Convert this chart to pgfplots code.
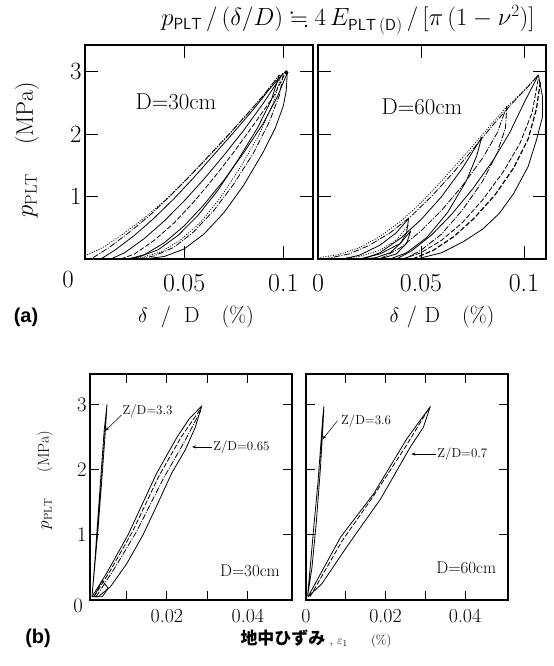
\documentclass[border=0pt]{standalone}
\usepackage{amssymb}
\usepackage{fontspec}
\usepackage{pgfplots}
\pgfplotsset{compat=1.18}
\usetikzlibrary{arrows.meta}
\newfontfamily\cjk{Noto Sans CJK JP}
\newfontfamily\arial{Liberation Sans}
\newcommand{\fs}[1]{\fontsize{#1}{#1}\selectfont}
\pgfplotsset{
  panel/.style={scale only axis, axis line style={line width=1.1bp},
    tick style={line width=0.9bp, black}, tick align=inside, clip=true,
    scaled ticks=false, cycle list={{black, solid}},
    every axis plot/.append style={line width=0.8bp, line join=round}},
  top/.style={panel, width=228bp, height=214bp, ymin=0, ymax=3.43,
    ytick={1,2,3}, major tick length=13bp,
    ticklabel style={font=\fs{26}}, xticklabel style={yshift=-12bp}},
  bot/.style={panel, width=202bp, height=226bp, ymin=0, ymax=3.47,
    ytick={1,2,3}, xtick={0.01,0.02,0.03,0.04}, major tick length=9bp,
    ticklabel style={font=\fs{20}}, xticklabel style={yshift=-6bp}},
  dd/.style={black, dash pattern=on 1bp off 1.5bp},
  da/.style={black, dash pattern=on 5bp off 2bp},
  dc/.style={black, dash pattern=on 6bp off 1.5bp on 1bp off 1.5bp},
}
\begin{document}
\begin{tikzpicture}[x=1bp,y=1bp]
\path[use as bounding box] (0,0) rectangle (554,666);
% ---------------- (a) D=30cm
\begin{axis}[top, at={(85bp,407bp)}, anchor=south west, xmin=0, xmax=0.115,
  xtick={0.05,0.1}, xticklabels={0.05,0.1}]
\addplot[dd] coordinates {(0,0.05)(0.01,0.2)(0.02,0.42)(0.03,0.66)(0.04,0.93)(0.05,1.24)(0.06,1.56)(0.07,1.9)(0.08,2.26)(0.09,2.62)(0.098,2.95)};
\addplot[dc] coordinates {(0.004,0.02)(0.012,0.18)(0.022,0.42)(0.032,0.68)(0.042,0.98)(0.052,1.3)(0.062,1.64)(0.072,1.98)(0.082,2.33)(0.091,2.66)(0.098,2.95)};
\addplot coordinates {(0.008,0)(0.015,0.14)(0.025,0.38)(0.035,0.66)(0.045,0.97)(0.055,1.31)(0.065,1.67)(0.075,2.03)(0.085,2.4)(0.093,2.72)(0.1,2.98)};
\addplot coordinates {(0.013,0)(0.02,0.1)(0.03,0.33)(0.04,0.61)(0.05,0.93)(0.06,1.28)(0.07,1.66)(0.08,2.06)(0.09,2.5)(0.1,2.98)};
\addplot[da] coordinates {(0.018,0)(0.025,0.08)(0.035,0.3)(0.045,0.58)(0.055,0.92)(0.065,1.3)(0.075,1.71)(0.085,2.15)(0.095,2.6)(0.101,2.98)};
\addplot coordinates {(0.022,0)(0.03,0.07)(0.04,0.26)(0.05,0.53)(0.06,0.87)(0.07,1.26)(0.08,1.7)(0.09,2.18)(0.097,2.6)(0.102,2.98)};
\addplot coordinates {(0.102,2.98)(0.1015,2.7)(0.1,2.45)(0.096,2.1)(0.09,1.72)(0.08,1.18)(0.07,0.74)(0.06,0.4)(0.05,0.16)(0.04,0.04)(0.03,0)};
\addplot[dc] coordinates {(0.1,2.96)(0.098,2.62)(0.093,2.2)(0.085,1.7)(0.075,1.2)(0.065,0.78)(0.055,0.44)(0.045,0.19)(0.035,0.05)(0.027,0)};
\addplot[dd] coordinates {(0.099,2.95)(0.095,2.5)(0.088,2.0)(0.078,1.45)(0.068,0.97)(0.058,0.58)(0.048,0.3)(0.038,0.11)(0.028,0.02)(0.022,0)};
\addplot coordinates {(0.098,2.95)(0.094,2.55)(0.087,2.1)(0.077,1.58)(0.067,1.1)(0.057,0.7)(0.047,0.38)(0.037,0.15)(0.027,0.03)(0.02,0)};
\addplot[black, only marks, mark=*, mark size=1.8bp] coordinates {(0.1015,2.99)};
\end{axis}
% ---------------- (a) D=60cm
\begin{axis}[top, at={(318bp,407bp)}, anchor=south west, xmin=0, xmax=0.1107,
  xtick={0,0.05,0.1}, xticklabels={0,0.05,0.1}, yticklabels={}]
\addplot[dd] coordinates {(0,0.02)(0.01,0.07)(0.02,0.18)(0.03,0.36)(0.04,0.6)(0.05,0.9)(0.06,1.25)(0.07,1.62)(0.08,2.0)(0.09,2.38)(0.1,2.7)(0.107,2.95)};
\addplot[dc] coordinates {(0.003,0)(0.015,0.08)(0.025,0.22)(0.035,0.42)(0.045,0.68)(0.055,1.0)(0.065,1.36)(0.075,1.75)(0.085,2.15)(0.095,2.52)(0.103,2.8)(0.107,2.95)};
\addplot coordinates {(0.012,0)(0.02,0.06)(0.03,0.22)(0.038,0.42)(0.044,0.65)(0.043,0.42)(0.04,0.25)(0.035,0.1)(0.028,0.02)(0.022,0)};
\addplot coordinates {(0.02,0)(0.03,0.08)(0.04,0.25)(0.045,0.45)(0.043,0.25)(0.038,0.08)(0.03,0)};
\addplot coordinates {(0.022,0)(0.03,0.1)(0.04,0.33)(0.05,0.63)(0.06,1.0)(0.07,1.45)(0.0795,1.95)(0.077,1.65)(0.072,1.25)(0.063,0.75)(0.053,0.35)(0.043,0.1)(0.035,0)};
\addplot[dc] coordinates {(0.03,0)(0.04,0.18)(0.05,0.45)(0.06,0.78)(0.07,1.17)(0.08,1.62)(0.087,2.02)(0.0917,2.45)(0.091,2.1)(0.087,1.7)(0.08,1.25)(0.07,0.78)(0.06,0.4)(0.05,0.14)(0.042,0)};
\addplot coordinates {(0.038,0)(0.045,0.12)(0.055,0.38)(0.065,0.72)(0.075,1.12)(0.085,1.58)(0.093,2.02)(0.1,2.5)(0.107,2.95)};
\addplot[da, line width=1.2bp] coordinates {(0.046,0)(0.056,0.14)(0.066,0.36)(0.076,0.66)(0.086,1.03)(0.095,1.46)(0.102,1.92)(0.106,2.4)(0.108,2.85)};
\addplot coordinates {(0.107,2.95)(0.109,2.6)(0.109,2.28)(0.106,1.9)(0.102,1.48)(0.095,1.05)(0.088,0.73)(0.08,0.48)(0.0707,0.28)(0.06,0.1)(0.048,0)};
\addplot[da] coordinates {(0.041,0)(0.05,0.1)(0.06,0.3)(0.07,0.58)(0.08,0.95)(0.09,1.4)(0.098,1.85)(0.104,2.35)(0.107,2.9)};
\addplot[dd] coordinates {(0.01,0)(0.02,0.04)(0.03,0.14)(0.038,0.3)(0.044,0.55)};
\end{axis}
% ---------------- (b) D=30cm
\begin{axis}[bot, at={(90bp,66bp)}, anchor=south west, xmin=0.001, xmax=0.0509,
  xticklabels={,0.02,,0.04}]
\addplot coordinates {(0.0015,0.05)(0.0022,0.6)(0.003,1.3)(0.0038,2.0)(0.0045,2.6)(0.0052,3.0)(0.0048,2.6)(0.0041,2.0)(0.003,1.1)(0.002,0.4)(0.0015,0.05)};
\addplot coordinates {(0.0015,0.05)(0.005,0.4)(0.0104,1.0)(0.0175,1.95)(0.0225,2.5)(0.0255,2.78)(0.0286,2.98)(0.027,2.65)(0.0245,2.3)(0.0212,1.95)(0.0175,1.45)(0.0141,1.0)(0.01,0.55)(0.006,0.2)(0.003,0.05)(0.0015,0.05)};
\addplot[da] coordinates {(0.002,0.05)(0.006,0.45)(0.0115,1.05)(0.018,1.9)(0.0235,2.5)(0.0285,2.95)};
\addplot[dc] coordinates {(0.0025,0.05)(0.0072,0.5)(0.0125,1.05)(0.019,1.85)(0.0245,2.45)(0.0283,2.9)};
\addplot coordinates {(0.002,0.05)(0.004,0.3)(0.0055,0.18)(0.004,0.05)(0.002,0.05)};
\draw[-{Stealth[length=4bp]}, line width=0.5bp] (axis cs:0.0088,2.84) -- (axis cs:0.0048,2.6);
\node[anchor=west, inner sep=0pt, font=\fs{13}] at (axis cs:0.009,2.9) {Z/D=3.3};
\draw[-{Stealth[length=4bp]}, line width=0.5bp] (axis cs:0.0312,2.35) -- (axis cs:0.0262,2.35);
\node[anchor=west, inner sep=0pt, font=\fs{13}] at (axis cs:0.0314,2.35) {Z/D=0.65};
\node[font=\fs{17}] at (axis cs:0.0405,0.45) {D=30cm};
\end{axis}
% ---------------- (b) D=60cm
\begin{axis}[bot, at={(306bp,66bp)}, anchor=south west, xmin=0, xmax=0.0508,
  xtick={0,0.01,0.02,0.03,0.04}, xticklabels={0,,0.02,,0.04}, yticklabels={}]
\addplot coordinates {(0.0004,0.06)(0.0012,0.6)(0.002,1.15)(0.003,1.8)(0.0038,2.45)(0.0042,2.8)(0.0045,2.97)(0.0042,2.6)(0.0036,2.0)(0.0026,1.2)(0.0015,0.5)(0.0004,0.06)};
\addplot coordinates {(0.0005,0.05)(0.00875,0.97)(0.017,1.63)(0.0254,2.48)(0.03125,2.97)(0.0295,2.65)(0.02625,2.35)(0.01875,1.55)(0.0104,0.83)(0.004,0.25)(0.0005,0.05)};
\addplot[da] coordinates {(0.001,0.05)(0.009,0.9)(0.017,1.6)(0.025,2.35)(0.0305,2.9)};
\draw[-{Stealth[length=4bp]}, line width=0.5bp] (axis cs:0.0079,2.75) -- (axis cs:0.0042,2.47);
\node[anchor=west, inner sep=0pt, font=\fs{13}] at (axis cs:0.0088,2.75) {Z/D=3.6};
\draw[-{Stealth[length=4bp]}, line width=0.5bp] (axis cs:0.0328,2.24) -- (axis cs:0.0265,2.24);
\node[anchor=west, inner sep=0pt, font=\fs{13}] at (axis cs:0.033,2.24) {Z/D=0.7};
\node[font=\fs{17}] at (axis cs:0.0403,0.5) {D=60cm};
\end{axis}
% ---------------- texts
\node[font=\fs{26}] at (68,386) {$0$};
\node[font=\fs{20}] at (78,60) {$0$};
\node[font=\fs{23}] at (176,564) {D=30cm};
\node[font=\fs{23}] at (422,559) {D=60cm};
\node[font=\fs{23}] at (348,646) {$p_{\mathsf{PLT}}\,\big/\,(\delta/D)\fallingdotseq 4\,E_{\mathsf{PLT\,(D)}}\,\big/\,[\pi\,(1-\nu^{2})]$};
\node[rotate=90, font=\fs{24}] at (27,516) {$p_{\mathrm{PLT}}$\hspace{1.2em}(MPa)};
\node[rotate=90, font=\fs{16}] at (45,186) {$p_{\mathrm{PLT}}$\hspace{1.6em}(MPa)};
\node[font=\fs{22}] at (196,349) {$\delta$\hspace{0.6em}/\hspace{0.6em}D\hspace{1em}(\%)};
\node[font=\fs{22}] at (442,349) {$\delta$\hspace{0.35em}/\hspace{0.35em}D\hspace{1em}(\%)};
\node[font=\fs{20}] at (26,349) {\arial\bfseries (a)};
\node[font=\fs{20}] at (38,28) {\arial\bfseries (b)};
\node at (316,27) {{\cjk\fs{17}\bfseries 地中ひずみ}\fs{13}\ ,\ $\varepsilon_{1}$\hspace{1.8em}(\%)};
\end{tikzpicture}
\end{document}
